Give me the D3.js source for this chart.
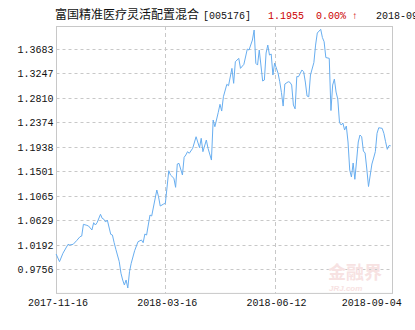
<!DOCTYPE html>
<html><head><meta charset="utf-8">
<script src="https://cdn.jsdelivr.net/npm/d3@7/dist/d3.min.js"></script>
<style>body{margin:0;background:#fff}svg{display:block}</style>
</head><body>
<script>
// trading-day offset from 2017-11-16 and NAV values
const days = [0,2,4,7,8,10,12,14,15,16,18,19,21,22,23,24,26,27,28,29,30,32,33,34,35,37,38,39,40,41,42,43,44,46,48,50,51,52,53,55,56,59,60,61,63,64,66,67,69,70,71,72,74,75,76,77,78,80,82,84,85,86,88,89,91,92,93,95,96,97,98,100,101,103,104,105,107,108,110,112,113,115,116,117,118,119,121,122,123,124,125,126,127,128,130,131,132,133,134,136,137,138,139,140,141,142,144,145,146,147,148,149,151,152,153,155,156,157,158,160,161,162,163,164,165,166,167,168,169,170,171,172,173,174,175,176,177,178,179,180,181,182,183,185,186,187,188,189,191,192,193,194,195,196];
const nav = [1.0023,0.9886,1.0036,1.0196,1.0184,1.0196,1.0261,1.0332,1.0344,1.0553,1.0535,1.0523,1.0452,1.0582,1.0541,1.0582,1.0732,1.0660,1.0643,1.0594,1.0630,1.0375,1.0362,1.0225,1.0107,0.9886,0.9679,0.9559,0.9470,0.9559,0.9416,0.9707,0.9857,1.0082,1.0243,1.0273,1.0225,1.0380,1.0362,1.0719,1.0702,1.1166,1.1046,1.0880,1.0916,1.0928,1.1510,1.1434,1.1375,1.1214,1.1630,1.1642,1.1434,1.1750,1.1791,1.1850,1.1821,1.1910,1.2117,1.1921,1.2089,1.1850,1.2058,1.1910,1.1701,1.2415,1.2296,1.2553,1.2696,1.2576,1.2831,1.3053,1.3028,1.3338,1.3071,1.3456,1.3517,1.3338,1.3410,1.3683,1.3665,1.3844,1.4022,1.3428,1.3397,1.3665,1.3112,1.3130,1.3612,1.3754,1.3576,1.3594,1.3219,1.3433,1.3255,1.3099,1.2906,1.2665,1.3058,1.3099,1.3089,1.3040,1.2683,1.2615,1.3192,1.3189,1.3308,1.3278,1.3094,1.2844,1.2831,1.3219,1.3442,1.3754,1.3969,1.4035,1.3888,1.3813,1.3531,1.3517,1.2585,1.3040,1.3147,1.2915,1.2790,1.2371,1.2326,1.2362,1.2237,1.2308,1.2023,1.1523,1.1398,1.1648,1.1357,1.1683,1.2023,1.2148,1.2117,1.1862,1.1826,1.1541,1.1228,1.1630,1.1737,1.1850,1.2178,1.2278,1.2267,1.2178,1.2028,1.1892,1.1960,1.1955];
const yTicks = [0.9756,1.0192,1.0629,1.1065,1.1501,1.1938,1.2374,1.2810,1.3247,1.3683];
const yDomain = [0.93197,1.41194];
const xTickDays = [0,64,128,196];
const xTickLabels = ["2017-11-16","2018-03-16","2018-06-12","2018-09-04"];
const fundName = "富国精准医疗灵活配置混合 [005176]";
const lastNav = "1.1955", lastChg = "0.00% ↑", lastDate = "2018-09-04";

const W=415,H=330;
const svg=d3.select("body").append("svg").attr("width",W).attr("height",H);
const L=56.5,R=392.5,T=26,B=293.4;
const x=d3.scaleLinear().domain([0,196]).range([56.1,390.7]);
const y=d3.scaleLinear().domain(yDomain).range([293.4,24.6]);
const mono="'Liberation Mono','DejaVu Sans Mono',monospace";

// grid
svg.append("g").selectAll("line").data(yTicks).join("line")
  .attr("x1",L).attr("x2",R).attr("y1",d=>Math.round(y(d))+0.5).attr("y2",d=>Math.round(y(d))+0.5)
  .attr("stroke","#c8c8c8").attr("stroke-dasharray","3,3");
svg.append("g").selectAll("line").data(xTickDays.slice(1,3)).join("line")
  .attr("x1",d=>Math.round(x(d))+0.5).attr("x2",d=>Math.round(x(d))+0.5).attr("y1",T).attr("y2",B)
  .attr("stroke","#c8c8c8").attr("stroke-dasharray","4,3");

// watermark
const wm=svg.append("g").attr("fill","#f7e2e2");
wm.append("text").attr("x",328).attr("y",279).attr("font-family","'Noto Sans CJK SC'").attr("font-size",18).attr("font-weight","bold").text("金融界");
wm.append("text").attr("x",329).attr("y",291).attr("font-family","Arial,'Liberation Sans'").attr("font-size",8).attr("font-style","italic").attr("font-weight","bold").text("JRJ.com");

// frame
svg.append("rect").attr("x",L).attr("y",T+0.5).attr("width",R-L).attr("height",B-T-0.5)
  .attr("fill","none").attr("stroke","#c8c8c8");

// line
const line=d3.line().x((d,i)=>x(days[i])).y(d=>y(d));
svg.append("path").datum(nav).attr("d",line).attr("fill","none").attr("stroke","#68aef0").attr("stroke-width",1);

// y labels
svg.append("g").selectAll("text").data(yTicks).join("text")
  .attr("x",53.5).attr("y",d=>y(d)+4).attr("text-anchor","end")
  .attr("font-family",mono).attr("font-size",10).attr("fill","#111").text(d=>d.toFixed(4));

// x labels
svg.append("g").selectAll("text").data(xTickDays).join("text")
  .attr("x",(d,i)=>i===3?x(d)+11:x(d)+2).attr("y",306)
  .attr("text-anchor",(d,i)=>i===3?"end":"middle")
  .attr("font-family",mono).attr("font-size",10).attr("fill","#111").text((d,i)=>xTickLabels[i]);

// title
const tt=svg.append("text").attr("y",19).attr("font-size",12);
tt.append("tspan").attr("x",55).attr("font-family","'Noto Sans CJK SC'").attr("fill","#111").text(fundName.split(" ")[0]);
tt.append("tspan").attr("x",203).attr("font-family",mono).attr("font-size",10).attr("fill","#111").text(fundName.split(" ")[1]);
svg.append("text").attr("x",268).attr("y",19).attr("font-family",mono).attr("font-size",10).attr("fill","#c00").text(lastNav);
svg.append("text").attr("x",316).attr("y",19).attr("font-family",mono).attr("font-size",10).attr("fill","#c00").text(lastChg);
svg.append("text").attr("x",376).attr("y",19).attr("font-family",mono).attr("font-size",10).attr("fill","#111").text(lastDate);
</script>
</body></html>
